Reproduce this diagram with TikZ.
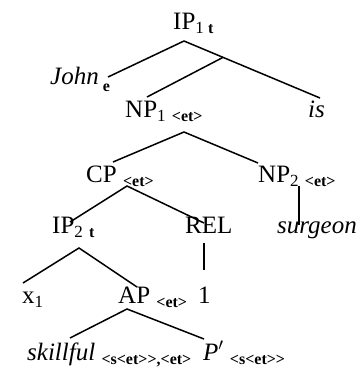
\documentclass[tikz,border=0pt]{standalone}
\usepackage{fontspec}
\setmainfont{Liberation Serif}
\usetikzlibrary{calc}
\newcommand\sbn[1]{\raisebox{-4.5pt}{\fontsize{17}{17}\selectfont #1}}
\newcommand\sbt[1]{\raisebox{-4.5pt}{\fontsize{16}{16}\selectfont\bfseries #1}}
\tikzset{
  lbl/.style={inner sep=0pt, anchor=base west, font=\fontsize{25}{26}\selectfont},
  edge/.style={line width=1.5pt}
}
\begin{document}
\begin{tikzpicture}[x=1pt,y=-1pt]
\useasboundingbox (0,0) rectangle (362,373);
% labels
\node[lbl] (ip1) at (173,29) {IP\sbn{1}\,\sbt{t}};
\node[lbl] (john) at (50,84) {\textit{John}\,\raisebox{-3pt}{\sbt{e}}};
\node[lbl] (np1) at (125,117) {NP\sbn{1}\ \sbt{<et>}};
\node[lbl] (is) at (308,117) {\textit{is}};
\node[lbl] (cp) at (86,182) {CP\ \sbt{<et>}};
\node[lbl] (np2) at (258,182) {NP\sbn{2}\ \sbt{<et>}};
\node[lbl] (ip2) at (52,233) {IP\sbn{2}\ \sbt{t}};
\node[lbl] (rel) at (185,233) {REL};
\node[lbl] (surgeon) at (277,233) {\textit{surgeon}};
\node[lbl] (x1) at (22,303) {x\sbn{1}};
\node[lbl] (ap) at (118,303) {AP\ \sbt{<et>}};
\node[lbl] (one) at (198,303) {1};
\node[lbl] (skillful) at (27,360) {\textit{skillful}\ \sbt{<s<et>{}>,<et>}};
\node[lbl] (pp) at (203,360) {\textit{P$'$}\ \sbt{<s<et>{}>}};
% connector points
\coordinate (ip1a) at (184,41);
\coordinate (johnt) at (108,77);
\coordinate (ist) at (320,98);
\coordinate (np1s) at ($(ip1a)!0.287!(ist)$);
\coordinate (np1t) at (147,97);
\coordinate (np1a) at (184,132);
\coordinate (cpt) at (113,162);
\coordinate (np2t) at (258,163);
\coordinate (cpa) at (127,186);
\coordinate (ip2t) at (70,222);
\coordinate (relt) at (204,223);
\coordinate (np2a) at (299,186);
\coordinate (surt) at (299,225);
\coordinate (ip2a) at (79,248);
\coordinate (x1t) at (23,283);
\coordinate (apt) at (137,287);
\coordinate (rela) at (204,243);
\coordinate (onet) at (204,270);
\coordinate (apa) at (127,309);
\coordinate (skt) at (70,338);
\coordinate (ppt) at (204,339);
% connectors
\draw[edge] (johnt) -- (ip1a) -- (ist);
\draw[edge] (np1s) -- (np1t);
\draw[edge] (cpt) -- (np1a) -- (np2t);
\draw[edge] (ip2t) -- (cpa) -- (relt);
\draw[edge] (np2a) -- (surt);
\draw[edge] (x1t) -- (ip2a) -- (apt);
\draw[edge] (rela) -- (onet);
\draw[edge] (skt) -- (apa) -- (ppt);
\end{tikzpicture}
\end{document}
